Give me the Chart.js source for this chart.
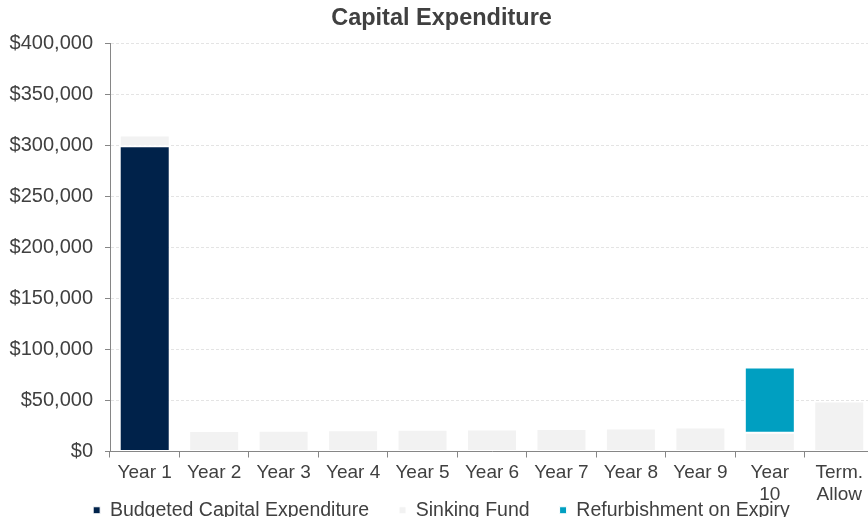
<!DOCTYPE html>
<html>
<head>
<meta charset="utf-8">
<title>Capital Expenditure</title>
<script src="https://cdn.jsdelivr.net/npm/chart.js@4.4.1/dist/chart.umd.min.js"></script>
<style>
  html, body { margin: 0; padding: 0; background: #fff; overflow: hidden; }
  #wrap { position: absolute; left: 0; top: 0; }
</style>
</head>
<body>
<div id="wrap"><canvas id="capex" width="883" height="530"></canvas></div>
<script>
// chart data
const years = ['Year 1', 'Year 2', 'Year 3', 'Year 4', 'Year 5', 'Year 6', 'Year 7', 'Year 8', 'Year 9', ['Year', '10'], ['Term.', 'Allow']]
const budgetedCapex = [299000, null, null, null, null, null, null, null, null, null, null]
const sinkingFund = [10500, 20000, 20300, 20800, 21300, 21600, 22100, 22600, 23500, 18300, 49000]
const refurbOnExpiry = [null, null, null, null, null, null, null, null, null, 64000, null]
const yTicks = [0, 50000, 100000, 150000, 200000, 250000, 300000, 350000, 400000]

const textColor = '#404040'
const axisColor = '#868686'
const font = 'Arial, "Liberation Sans", sans-serif'

Chart.defaults.font.family = font
Chart.defaults.color = textColor

function bar(label, data, colour) {
    return {
        label: label,
        data: data,
        backgroundColor: colour,
        borderColor: '#ffffff',
        borderWidth: 1,
        borderSkipped: false,
        categoryPercentage: 1,
        barPercentage: 0.72
    }
}

// the x labels hang down into the legend band, so let them draw past the scale box
const unclipLabels = {
    id: 'unclipLabels',
    afterLayout: function (chart) {
        chart.scales.x.bottom = chart.height
    }
}

let ctx = document.getElementById('capex').getContext('2d')
new Chart(ctx, {
    type: 'bar',
    data: {
        labels: years,
        datasets: [
            bar('Budgeted Capital Expenditure', budgetedCapex, '#00224a'),
            bar('Sinking Fund', sinkingFund, '#f2f2f2'),
            bar('Refurbishment on Expiry', refurbOnExpiry, '#009fc1')
        ]
    },
    plugins: [unclipLabels],
    options: {
        responsive: false,
        animation: false,
        events: [],
        layout: { padding: { left: 9, right: 9, top: 0, bottom: 0 } },
        plugins: {
            title: {
                display: true,
                text: 'Capital Expenditure',
                color: textColor,
                font: { size: 23.5, weight: 'bold' },
                padding: { top: 4, bottom: 10.8 }
            },
            legend: {
                position: 'bottom',
                labels: {
                    boxWidth: 7,
                    boxHeight: 7,
                    padding: 30,
                    color: textColor,
                    font: { size: 19.5 }
                }
            },
            tooltip: { enabled: false }
        },
        scales: {
            x: {
                stacked: true,
                grid: {
                    offset: true,
                    drawOnChartArea: false,
                    tickColor: axisColor,
                    tickLength: 6
                },
                border: { color: axisColor, width: 1 },
                ticks: {
                    color: textColor,
                    font: { size: 19, lineHeight: 1.16 },
                    padding: 4,
                    maxRotation: 0,
                    autoSkip: false
                },
                afterFit: function (scale) { scale.height = 19 }
            },
            y: {
                stacked: true,
                min: 0,
                max: 400000,
                afterBuildTicks: function (scale) {
                    scale.ticks = yTicks.map(v => ({ value: v }))
                },
                grid: {
                    color: '#e4e4e4',
                    tickColor: axisColor,
                    tickLength: 5
                },
                border: { color: axisColor, width: 1, dash: [3, 2] },
                ticks: {
                    color: textColor,
                    font: { size: 20 },
                    padding: 12,
                    callback: v => '$' + Number(v).toLocaleString('en-US')
                },
                afterFit: function (scale) { scale.width = 101 }
            }
        }
    }
})
</script>
</body>
</html>
